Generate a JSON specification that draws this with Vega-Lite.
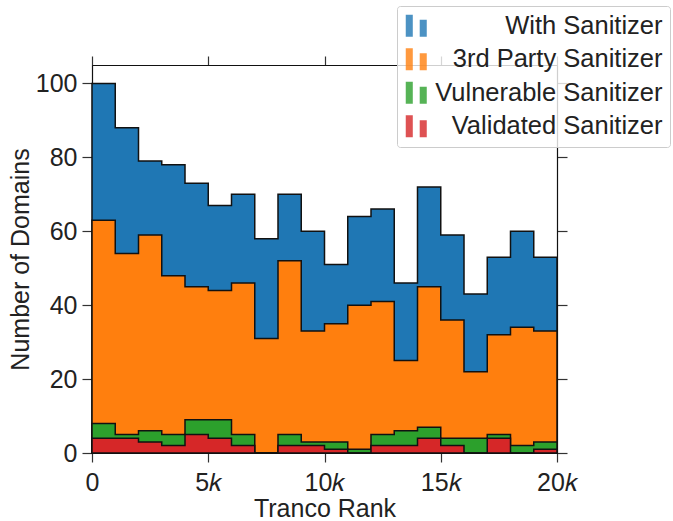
{
  "$schema": "https://vega.github.io/schema/vega-lite/v6.json",
  "width": 465,
  "height": 388,
  "autosize": {"type": "none"},
  "padding": {"left": 92, "top": 65, "right": 116, "bottom": 68},
  "background": "white",
  "config": {
    "font": "Liberation Sans",
    "view": {"stroke": "#222222", "strokeWidth": 1},
    "axis": {
      "grid": false,
      "domainColor": "#111111",
      "domainWidth": 1.2,
      "tickColor": "#333333",
      "tickWidth": 1.2,
      "labelFont": "Liberation Sans",
      "labelFontSize": 25,
      "labelColor": "#222222",
      "titleFont": "Liberation Sans",
      "titleFontSize": 25,
      "titleFontWeight": "normal",
      "titleColor": "#222222"
    },
    "legend": {
      "orient": "none",
      "legendX": 305,
      "legendY": -59,
      "fillColor": "rgba(255,255,255,0.8)",
      "strokeColor": "#cccccc",
      "padding": 7,
      "cornerRadius": 3,
      "symbolType": "M-1,-1H-0.36V1H-1Z M0.27,-0.55H0.91V1H0.27Z",
      "symbolSize": 484,
      "symbolStrokeWidth": 0,
      "symbolOpacity": 0.8,
      "labelFont": "Liberation Sans",
      "labelFontSize": 25.5,
      "labelColor": "#222222",
      "labelAlign": "right",
      "labelOffset": 233,
      "labelLimit": 400,
      "rowPadding": 6.5
    }
  },
  "data": {
    "values": [
      {"series": "With Sanitizer", "lo": 0, "hi": 1000, "n": 100},
      {"series": "With Sanitizer", "lo": 1000, "hi": 2000, "n": 88},
      {"series": "With Sanitizer", "lo": 2000, "hi": 3000, "n": 79},
      {"series": "With Sanitizer", "lo": 3000, "hi": 4000, "n": 78},
      {"series": "With Sanitizer", "lo": 4000, "hi": 5000, "n": 73},
      {"series": "With Sanitizer", "lo": 5000, "hi": 6000, "n": 67},
      {"series": "With Sanitizer", "lo": 6000, "hi": 7000, "n": 70},
      {"series": "With Sanitizer", "lo": 7000, "hi": 8000, "n": 58},
      {"series": "With Sanitizer", "lo": 8000, "hi": 9000, "n": 70},
      {"series": "With Sanitizer", "lo": 9000, "hi": 10000, "n": 60},
      {"series": "With Sanitizer", "lo": 10000, "hi": 11000, "n": 51},
      {"series": "With Sanitizer", "lo": 11000, "hi": 12000, "n": 64},
      {"series": "With Sanitizer", "lo": 12000, "hi": 13000, "n": 66},
      {"series": "With Sanitizer", "lo": 13000, "hi": 14000, "n": 46},
      {"series": "With Sanitizer", "lo": 14000, "hi": 15000, "n": 72},
      {"series": "With Sanitizer", "lo": 15000, "hi": 16000, "n": 59},
      {"series": "With Sanitizer", "lo": 16000, "hi": 17000, "n": 43},
      {"series": "With Sanitizer", "lo": 17000, "hi": 18000, "n": 53},
      {"series": "With Sanitizer", "lo": 18000, "hi": 19000, "n": 60},
      {"series": "With Sanitizer", "lo": 19000, "hi": 20000, "n": 53},
      {"series": "3rd Party Sanitizer", "lo": 0, "hi": 1000, "n": 63},
      {"series": "3rd Party Sanitizer", "lo": 1000, "hi": 2000, "n": 54},
      {"series": "3rd Party Sanitizer", "lo": 2000, "hi": 3000, "n": 59},
      {"series": "3rd Party Sanitizer", "lo": 3000, "hi": 4000, "n": 48},
      {"series": "3rd Party Sanitizer", "lo": 4000, "hi": 5000, "n": 45},
      {"series": "3rd Party Sanitizer", "lo": 5000, "hi": 6000, "n": 44},
      {"series": "3rd Party Sanitizer", "lo": 6000, "hi": 7000, "n": 46},
      {"series": "3rd Party Sanitizer", "lo": 7000, "hi": 8000, "n": 31},
      {"series": "3rd Party Sanitizer", "lo": 8000, "hi": 9000, "n": 52},
      {"series": "3rd Party Sanitizer", "lo": 9000, "hi": 10000, "n": 33},
      {"series": "3rd Party Sanitizer", "lo": 10000, "hi": 11000, "n": 35},
      {"series": "3rd Party Sanitizer", "lo": 11000, "hi": 12000, "n": 40},
      {"series": "3rd Party Sanitizer", "lo": 12000, "hi": 13000, "n": 41},
      {"series": "3rd Party Sanitizer", "lo": 13000, "hi": 14000, "n": 25},
      {"series": "3rd Party Sanitizer", "lo": 14000, "hi": 15000, "n": 45},
      {"series": "3rd Party Sanitizer", "lo": 15000, "hi": 16000, "n": 36},
      {"series": "3rd Party Sanitizer", "lo": 16000, "hi": 17000, "n": 22},
      {"series": "3rd Party Sanitizer", "lo": 17000, "hi": 18000, "n": 32},
      {"series": "3rd Party Sanitizer", "lo": 18000, "hi": 19000, "n": 34},
      {"series": "3rd Party Sanitizer", "lo": 19000, "hi": 20000, "n": 33},
      {"series": "Vulnerable Sanitizer", "lo": 0, "hi": 1000, "n": 8},
      {"series": "Vulnerable Sanitizer", "lo": 1000, "hi": 2000, "n": 5},
      {"series": "Vulnerable Sanitizer", "lo": 2000, "hi": 3000, "n": 6},
      {"series": "Vulnerable Sanitizer", "lo": 3000, "hi": 4000, "n": 5},
      {"series": "Vulnerable Sanitizer", "lo": 4000, "hi": 5000, "n": 9},
      {"series": "Vulnerable Sanitizer", "lo": 5000, "hi": 6000, "n": 9},
      {"series": "Vulnerable Sanitizer", "lo": 6000, "hi": 7000, "n": 5},
      {"series": "Vulnerable Sanitizer", "lo": 7000, "hi": 8000, "n": 0},
      {"series": "Vulnerable Sanitizer", "lo": 8000, "hi": 9000, "n": 5},
      {"series": "Vulnerable Sanitizer", "lo": 9000, "hi": 10000, "n": 3},
      {"series": "Vulnerable Sanitizer", "lo": 10000, "hi": 11000, "n": 3},
      {"series": "Vulnerable Sanitizer", "lo": 11000, "hi": 12000, "n": 1},
      {"series": "Vulnerable Sanitizer", "lo": 12000, "hi": 13000, "n": 5},
      {"series": "Vulnerable Sanitizer", "lo": 13000, "hi": 14000, "n": 6},
      {"series": "Vulnerable Sanitizer", "lo": 14000, "hi": 15000, "n": 7},
      {"series": "Vulnerable Sanitizer", "lo": 15000, "hi": 16000, "n": 4},
      {"series": "Vulnerable Sanitizer", "lo": 16000, "hi": 17000, "n": 4},
      {"series": "Vulnerable Sanitizer", "lo": 17000, "hi": 18000, "n": 5},
      {"series": "Vulnerable Sanitizer", "lo": 18000, "hi": 19000, "n": 2},
      {"series": "Vulnerable Sanitizer", "lo": 19000, "hi": 20000, "n": 3},
      {"series": "Validated Sanitizer", "lo": 0, "hi": 1000, "n": 4},
      {"series": "Validated Sanitizer", "lo": 1000, "hi": 2000, "n": 4},
      {"series": "Validated Sanitizer", "lo": 2000, "hi": 3000, "n": 3},
      {"series": "Validated Sanitizer", "lo": 3000, "hi": 4000, "n": 2},
      {"series": "Validated Sanitizer", "lo": 4000, "hi": 5000, "n": 5},
      {"series": "Validated Sanitizer", "lo": 5000, "hi": 6000, "n": 4},
      {"series": "Validated Sanitizer", "lo": 6000, "hi": 7000, "n": 2},
      {"series": "Validated Sanitizer", "lo": 7000, "hi": 8000, "n": 0},
      {"series": "Validated Sanitizer", "lo": 8000, "hi": 9000, "n": 2},
      {"series": "Validated Sanitizer", "lo": 9000, "hi": 10000, "n": 2},
      {"series": "Validated Sanitizer", "lo": 10000, "hi": 11000, "n": 1},
      {"series": "Validated Sanitizer", "lo": 11000, "hi": 12000, "n": 0},
      {"series": "Validated Sanitizer", "lo": 12000, "hi": 13000, "n": 2},
      {"series": "Validated Sanitizer", "lo": 13000, "hi": 14000, "n": 2},
      {"series": "Validated Sanitizer", "lo": 14000, "hi": 15000, "n": 4},
      {"series": "Validated Sanitizer", "lo": 15000, "hi": 16000, "n": 2},
      {"series": "Validated Sanitizer", "lo": 16000, "hi": 17000, "n": 0},
      {"series": "Validated Sanitizer", "lo": 17000, "hi": 18000, "n": 4},
      {"series": "Validated Sanitizer", "lo": 18000, "hi": 19000, "n": 0},
      {"series": "Validated Sanitizer", "lo": 19000, "hi": 20000, "n": 1}
    ]
  },
  "transform": [
    {"fold": ["lo", "hi"], "as": ["key", "edge"]}
  ],
  "resolve": {"axis": {"x": "independent", "y": "independent"}},
  "layer": [
    {
      "transform": [{"filter": "datum.series === 'With Sanitizer'"}],
      "mark": {"type": "area", "stroke": "#111111", "strokeWidth": 1.5, "interpolate": "linear"},
      "encoding": {
        "x": {"field": "edge", "type": "quantitative", "scale": {"domain": [0, 20000], "nice": false, "zero": false},
              "axis": {"orient": "bottom", "values": [0, 5000, 10000, 15000, 20000], "tickSize": 9, "labelPadding": 8, "title": "Tranco Rank", "titlePadding": 1,
                       "labelExpr": "datum.value === 0 ? '0' : (datum.value / 1000) + '𝑘'", "labelFlush": false, "labelOverlap": false}},
        "y": {"field": "n", "type": "quantitative", "stack": null, "scale": {"domain": [0, 105], "nice": false},
              "axis": {"orient": "left", "values": [0, 20, 40, 60, 80, 100], "tickSize": 10, "labelPadding": 5, "title": "Number of Domains", "titlePadding": 2}},
        "order": [{"field": "edge", "type": "quantitative"}, {"field": "key", "type": "nominal"}],
        "color": {"field": "series", "type": "nominal",
                  "scale": {"domain": ["With Sanitizer", "3rd Party Sanitizer", "Vulnerable Sanitizer", "Validated Sanitizer"], "range": ["#1f77b4", "#ff7f0e", "#2ca02c", "#d62728"]},
                  "legend": {"title": null}}
      }
    },
    {
      "transform": [{"filter": "datum.series === '3rd Party Sanitizer'"}],
      "mark": {"type": "area", "stroke": "#111111", "strokeWidth": 1.5, "interpolate": "linear"},
      "encoding": {
        "x": {"field": "edge", "type": "quantitative", "axis": null},
        "y": {"field": "n", "type": "quantitative", "stack": null, "axis": null},
        "order": [{"field": "edge", "type": "quantitative"}, {"field": "key", "type": "nominal"}],
        "color": {"field": "series", "type": "nominal",
                  "scale": {"domain": ["With Sanitizer", "3rd Party Sanitizer", "Vulnerable Sanitizer", "Validated Sanitizer"], "range": ["#1f77b4", "#ff7f0e", "#2ca02c", "#d62728"]},
                  "legend": {"title": null}}
      }
    },
    {
      "transform": [{"filter": "datum.series === 'Vulnerable Sanitizer'"}],
      "mark": {"type": "area", "stroke": "#111111", "strokeWidth": 1.5, "interpolate": "linear"},
      "encoding": {
        "x": {"field": "edge", "type": "quantitative", "axis": null},
        "y": {"field": "n", "type": "quantitative", "stack": null, "axis": null},
        "order": [{"field": "edge", "type": "quantitative"}, {"field": "key", "type": "nominal"}],
        "color": {"field": "series", "type": "nominal",
                  "scale": {"domain": ["With Sanitizer", "3rd Party Sanitizer", "Vulnerable Sanitizer", "Validated Sanitizer"], "range": ["#1f77b4", "#ff7f0e", "#2ca02c", "#d62728"]},
                  "legend": {"title": null}}
      }
    },
    {
      "transform": [{"filter": "datum.series === 'Validated Sanitizer'"}],
      "mark": {"type": "area", "stroke": "#111111", "strokeWidth": 1.5, "interpolate": "linear"},
      "encoding": {
        "x": {"field": "edge", "type": "quantitative",
              "axis": {"orient": "top", "values": [0, 5000, 10000, 15000, 20000], "tickSize": 9, "labels": false, "title": null}},
        "y": {"field": "n", "type": "quantitative", "stack": null,
              "axis": {"orient": "right", "values": [0, 20, 40, 60, 80, 100], "tickSize": 10, "labels": false, "title": null}},
        "order": [{"field": "edge", "type": "quantitative"}, {"field": "key", "type": "nominal"}],
        "color": {"field": "series", "type": "nominal",
                  "scale": {"domain": ["With Sanitizer", "3rd Party Sanitizer", "Vulnerable Sanitizer", "Validated Sanitizer"], "range": ["#1f77b4", "#ff7f0e", "#2ca02c", "#d62728"]},
                  "legend": {"title": null}}
      }
    }
  ]
}
